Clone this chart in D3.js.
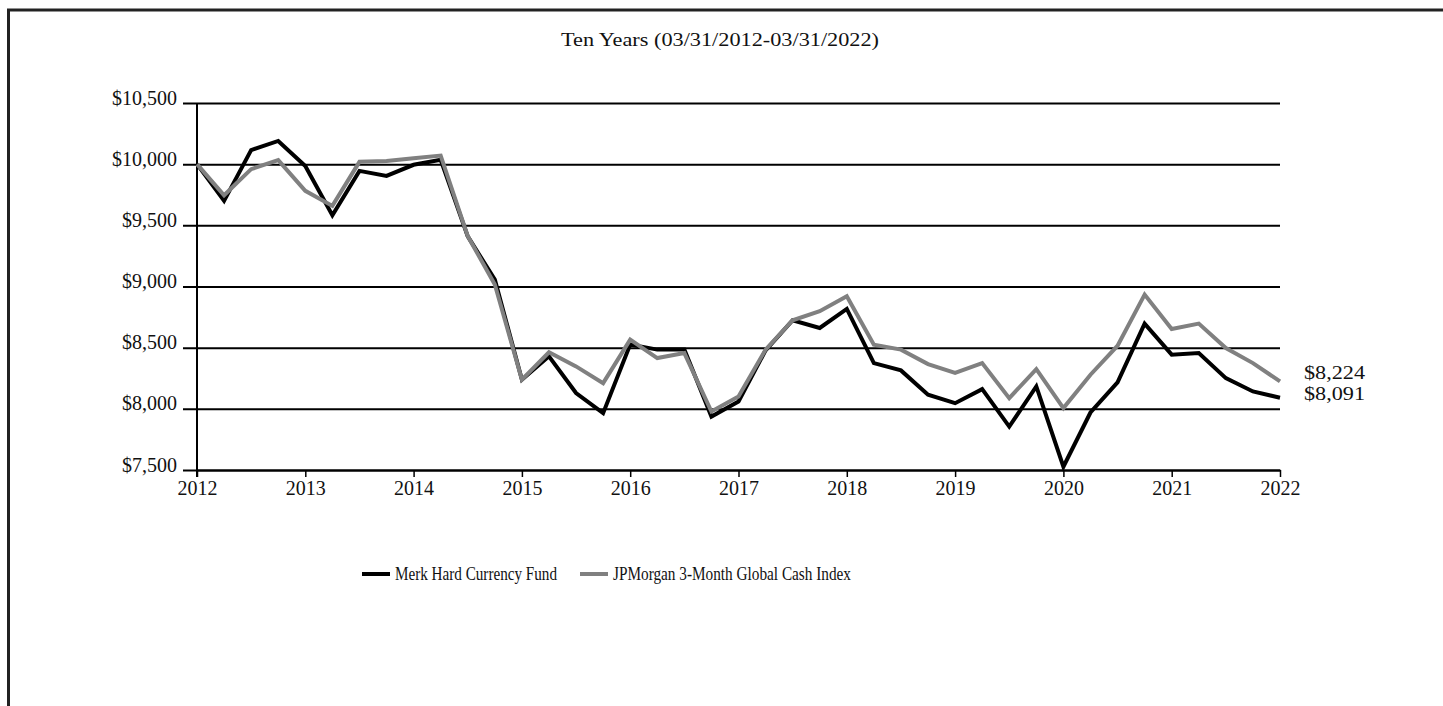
<!DOCTYPE html>
<html>
<head>
<meta charset="utf-8">
<script src="https://cdn.jsdelivr.net/npm/d3@7"></script>
<style>
  html, body { margin: 0; padding: 0; background: #fff; }
  svg { display: block; }
  text { font-family: "Liberation Serif", "DejaVu Serif", serif; fill: #111; }
</style>
</head>
<body>
<svg id="chart" width="1443" height="706"></svg>
<script>
// ---- data (quarterly, 03/31/2012 - 03/31/2022) ----
const quarters = d3.range(0, 41).map(i => 2012 + i * 0.25);
const merkFund = [
  10000, 9700, 10115, 10190, 9985, 9582, 9945, 9904, 9995, 10035,
  9410, 9057, 8238, 8429, 8129, 7965, 8525, 8484, 8484, 7937,
  8060, 8478, 8724, 8661, 8817, 8374, 8314, 8115, 8046, 8161,
  7855, 8183, 7527, 7970, 8216, 8697, 8443, 8456, 8251, 8142,
  8091
];
const jpmIndex = [
  10000, 9746, 9959, 10033, 9782, 9659, 10019, 10025, 10049, 10070,
  9412, 9016, 8238, 8462, 8347, 8210, 8566, 8415, 8456, 7978,
  8101, 8484, 8724, 8798, 8921, 8525, 8484, 8366, 8293, 8374,
  8087, 8325, 8006, 8279, 8516, 8934, 8653, 8697, 8497, 8374,
  8224
];
const yTicks = [7500, 8000, 8500, 9000, 9500, 10000, 10500];
const xTicks = [2012, 2013, 2014, 2015, 2016, 2017, 2018, 2019, 2020, 2021, 2022];
const seriesNames = ["Merk Hard Currency Fund", "JPMorgan 3-Month Global Cash Index"];
const seriesColors = ["#000000", "#808080"];
const endLabels = ["$8,091", "$8,224"];
const titleText = "Ten Years (03/31/2012-03/31/2022)";

// ---- layout ----
const svg = d3.select("#chart");
const pLeft = 197, pRight = 1280, pTop = 103, pBottom = 470;

const x = d3.scaleLinear().domain([2012, 2022]).range([pLeft, pRight]);
const y = d3.scaleLinear().domain([7500, 10500]).range([pBottom, pTop]);

// outer frame (left and top edges visible)
svg.append("path")
  .attr("d", "M8.5,706 L8.5,10 L1443,10")
  .attr("fill", "none").attr("stroke", "#222").attr("stroke-width", 3);

// title
svg.append("text").attr("x", 720).attr("y", 46)
  .attr("text-anchor", "middle").style("font-size", "18px")
  .attr("textLength", 318).attr("lengthAdjust", "spacingAndGlyphs").text(titleText);

// gridlines + y labels
const yAxis = d3.axisLeft(y).tickValues(yTicks)
  .tickSize(-(pRight - pLeft)).tickSizeOuter(0)
  .tickFormat(d => "$" + d3.format(",")(d));
const yg = svg.append("g").attr("transform", `translate(${pLeft},0)`).call(yAxis);
yg.select(".domain").remove();
yg.selectAll(".tick line").attr("x1", -14).attr("stroke", "#000").attr("stroke-width", 2);
yg.selectAll(".tick text").attr("x", -20).attr("y", 1).attr("dy", "0")
  .style("font-size", "20px").style("font-family", "'Liberation Serif', serif").attr("fill", "#111");

// y axis line
svg.append("line").attr("x1", pLeft).attr("x2", pLeft).attr("y1", pTop).attr("y2", pBottom + 7)
  .attr("stroke", "#000").attr("stroke-width", 2);

// x axis
const xAxis = d3.axisBottom(x).tickValues(xTicks).tickSize(7).tickSizeOuter(0).tickFormat(d3.format("d"));
const xg = svg.append("g").attr("transform", `translate(0,${pBottom})`).call(xAxis);
xg.select(".domain").attr("stroke", "#000").attr("stroke-width", 2);
xg.selectAll(".tick line").attr("stroke", "#000").attr("stroke-width", 1.5);
xg.selectAll(".tick text").attr("y", 25).attr("dy", "0")
  .style("font-size", "20px").style("font-family", "'Liberation Serif', serif").attr("fill", "#111");

// lines (black first, gray on top)
const line = d3.line().x((d, i) => x(quarters[i])).y(d => y(d));
[[merkFund, seriesColors[0]], [jpmIndex, seriesColors[1]]].forEach(([s, c]) => {
  svg.append("path").datum(s).attr("d", line)
    .attr("fill", "none").attr("stroke", c)
    .attr("stroke-width", 4).attr("stroke-linejoin", "miter");
});

// end labels
svg.append("text").attr("x", 1304).attr("y", 379).style("font-size", "18px")
  .attr("textLength", 61).attr("lengthAdjust", "spacingAndGlyphs").text(endLabels[1]);
svg.append("text").attr("x", 1304).attr("y", 400).style("font-size", "18px")
  .attr("textLength", 61).attr("lengthAdjust", "spacingAndGlyphs").text(endLabels[0]);

// legend
const legendItems = [
  {x: 362, name: seriesNames[0], color: seriesColors[0], len: 162},
  {x: 580, name: seriesNames[1], color: seriesColors[1], len: 238}
];
legendItems.forEach(it => {
  svg.append("line").attr("x1", it.x).attr("x2", it.x + 28).attr("y1", 574).attr("y2", 574)
    .attr("stroke", it.color).attr("stroke-width", 4);
  svg.append("text").attr("x", it.x + 33).attr("y", 580).style("font-size", "19px")
    .attr("textLength", it.len).attr("lengthAdjust", "spacingAndGlyphs").text(it.name);
});
</script>
</body>
</html>
